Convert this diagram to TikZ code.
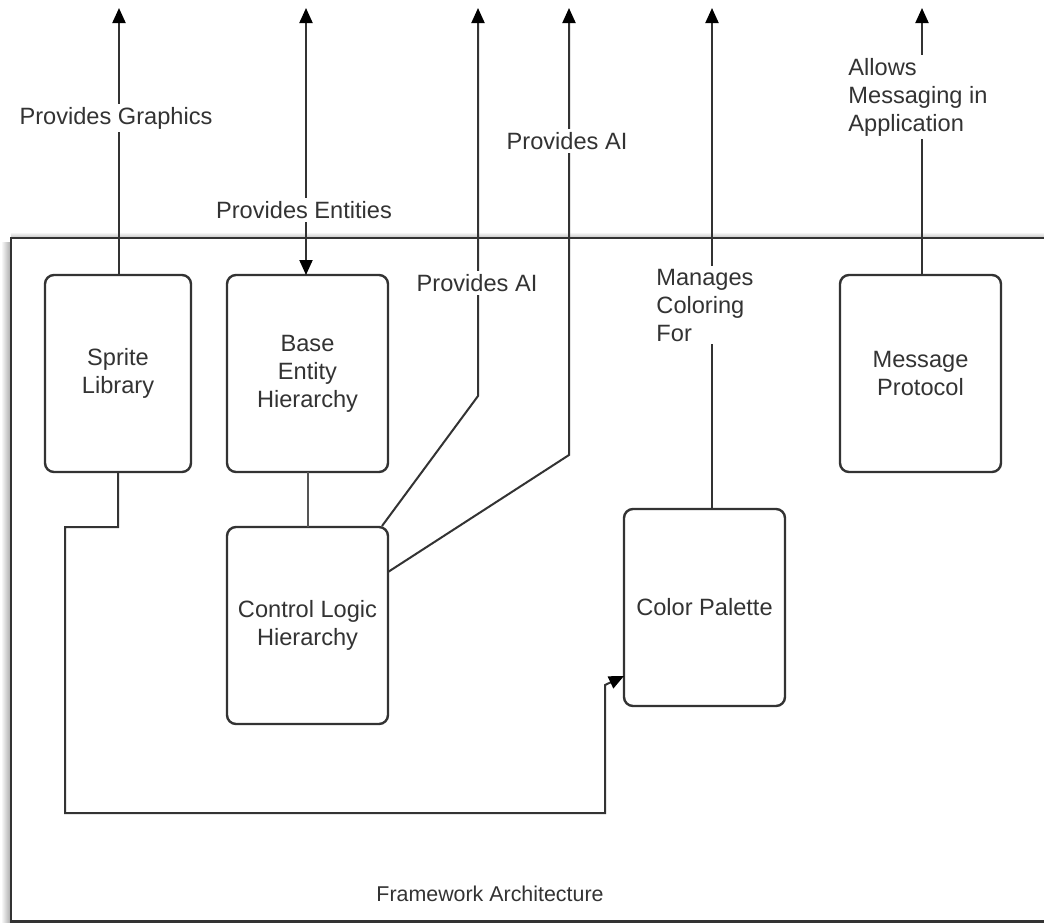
\documentclass[tikz,border=0pt]{standalone}
\usepackage{fontspec}
\setmainfont{Liberation Sans}
\usetikzlibrary{arrows.meta,calc}
\definecolor{ink}{HTML}{333333}
\definecolor{softink}{HTML}{555555}
\begin{document}
\begin{tikzpicture}[x=1pt,y=-1pt,
  every node/.style={text=ink,font=\fontsize{23.6}{28}\selectfont},
  block/.style={draw=ink,line width=2.4pt,rounded corners=9pt,fill=white,
    minimum width=146pt,minimum height=197pt,inner sep=0pt,outer sep=0pt,align=center},
  wide/.style={block,minimum width=161pt},
  link/.style={draw=ink,line width=2pt},
  tip/.tip={Triangle[length=15pt,width=13pt,color=black]},
  arr/.style={link,-tip},
  tag/.style={fill=white,inner sep=3pt,align=center},
]
\useasboundingbox (0,0) rectangle (1044,922);
\fill[white] (0,0) rectangle (1044,922);

% soft shadow on the left of the framework frame
\shade[left color=white,right color=black!35] (1,242) rectangle (11,922);
\shade[top color=white,bottom color=black!25] (11,232) rectangle (1044,238);
% framework frame
\draw[draw=ink,line width=2.4pt,fill=white] (11,238) rectangle (1060,921.5);
\node[font=\fontsize{21.4}{26}\selectfont] (fw) at (490,894) {Framework Architecture};

% components
\node[block] (sprite) at (118,373.5) {Sprite\\Library};
\node[wide] (base) at (307.5,373.5) {Base\\Entity\\Hierarchy};
\node[wide] (control) at (307.5,625.5) {Control Logic\\Hierarchy};
\node[wide] (palette) at (704.5,607.5) {Color Palette};
\node[wide] (message) at (920.5,373.5) {Message\\Protocol};

% outgoing ends at the top
\coordinate (tSprite) at (119,8);
\coordinate (tBase) at (306,8);
\coordinate (tAiA) at (478,8);
\coordinate (tAiB) at (569,8);
\coordinate (tColor) at (712,8);
\coordinate (tMsg) at (922,8);
\coordinate (kAiA) at (478,396);
\coordinate (kAiB) at (569,455);

% connectors
\draw[arr] (sprite.north -| tSprite) -- (tSprite);
\draw[link,tip-tip] (tBase) -- (base.north -| tBase);
\draw[link,draw=softink] (base.south) -- (control.north);
\draw[arr] ([xshift=-6pt,yshift=1pt]control.north east) -- (kAiA) -- (tAiA);
\draw[arr] ([yshift=53.5pt]control.east) -- (kAiB) -- (tAiB);
\draw[arr] (palette.north -| tColor) -- (tColor);
\draw[arr] (message.north -| tMsg) -- (tMsg);
\draw[arr] (sprite.south) |- (65,527) -- (65,813) -| (605,685) -- ([yshift=-68.5pt]palette.west);

% connector labels
\node[tag] (lGraphics) at (116,118) {Provides Graphics};
\node[tag] (lEntities) at (304,210) {Provides Entities};
\node[tag] (lAiA) at (477,283) {Provides AI};
\node[tag] (lAiB) at (567,141) {Provides AI};
\node[tag,align=left] (lColor) at (705,305) {Manages\\Coloring\\For};
\node[tag,align=left] (lMsg) at (918,97) {Allows\\Messaging in\\Application};
\end{tikzpicture}
\end{document}
